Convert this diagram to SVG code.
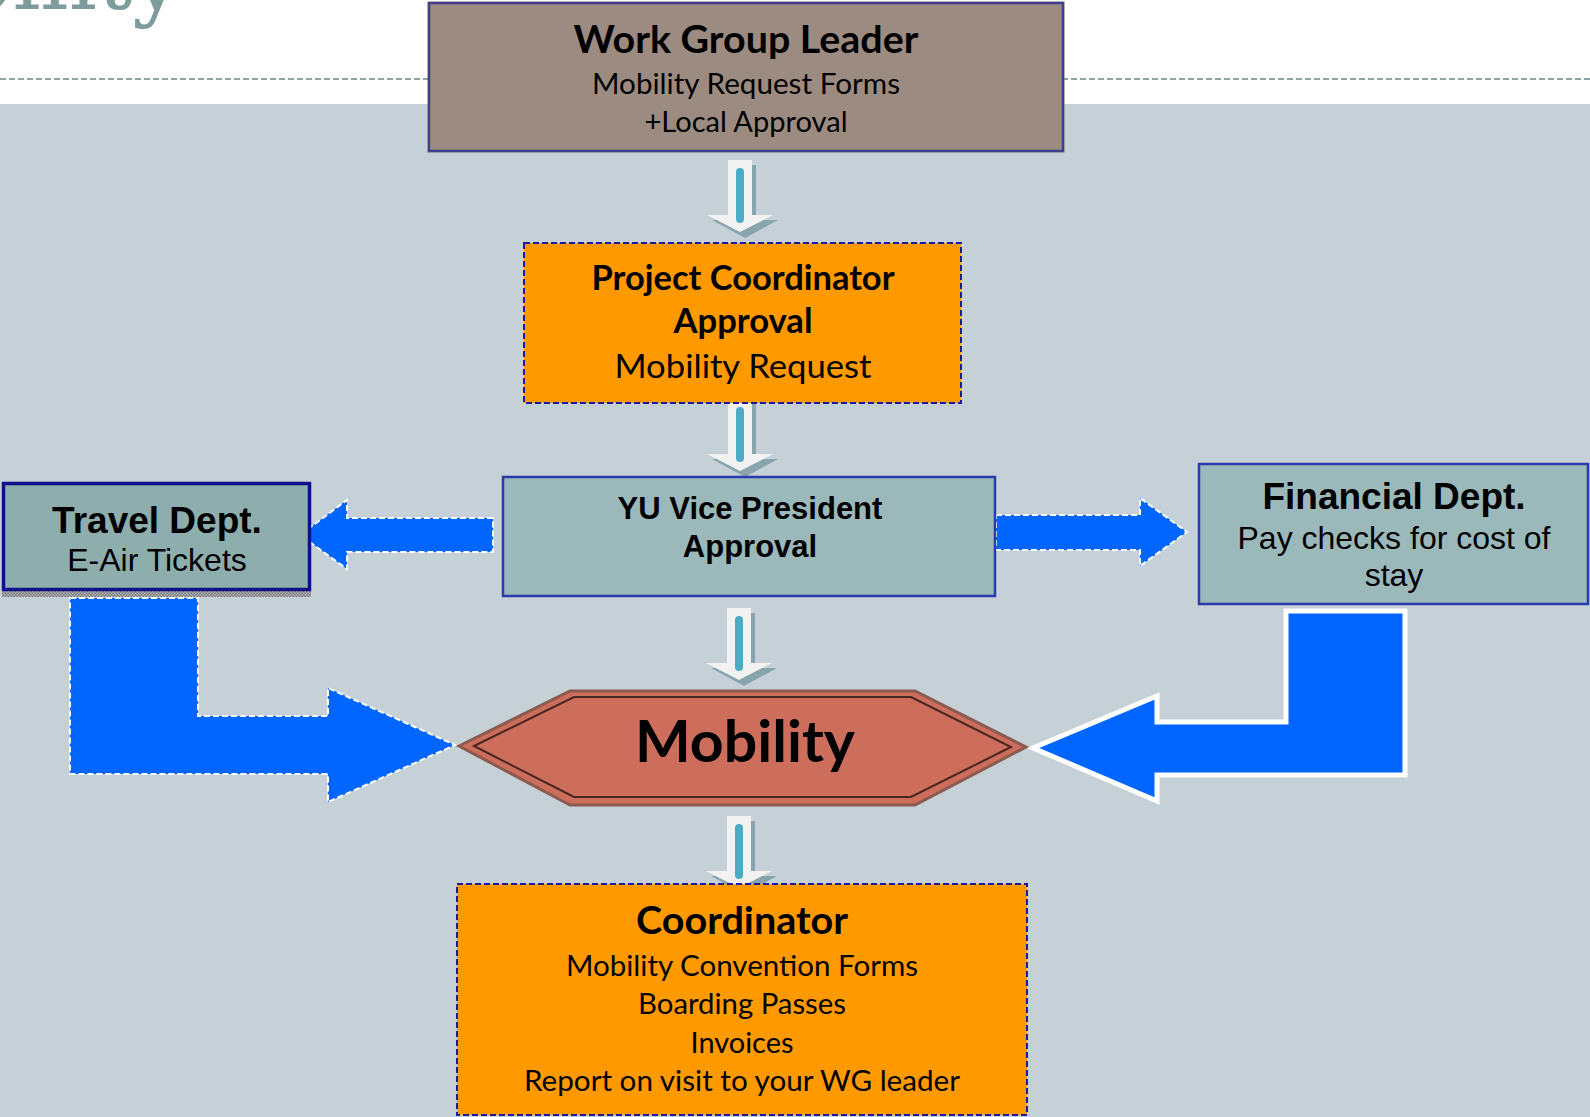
<svg xmlns="http://www.w3.org/2000/svg" width="1590" height="1117" viewBox="0 0 1590 1117">
<style>
.cal{font-family:Lato,"Open Sans",sans-serif;fill:#000;text-anchor:middle}
.b{font-weight:700}
.ar{font-family:"Liberation Sans",Arial,sans-serif;fill:#000;text-anchor:middle}
.orange{fill:#ff9900;stroke:#1a1aa0;stroke-width:2;stroke-dasharray:6 3}
.teal{fill:#9bb9bb;stroke:#2a3aaa;stroke-width:2.5}
.bluedash{fill:#0066ff;stroke:#ffffff;stroke-width:2;stroke-dasharray:6 3}
.bluesolid{fill:#0066ff;stroke:#ffffff;stroke-width:5;stroke-linejoin:miter}
</style>
<defs>
<g id="darrow">
<path d="M-8,5 L16,5 L16,60 L38,60 L5,78 L-28,60 L-8,60 Z" fill="#7d9ca5" opacity="0.85"/>
<path d="M-12,0 L12,0 L12,55 L33,55 L0,72 L-33,55 L-12,55 Z" fill="#f2f2f2"/>
<rect x="-4" y="8" width="8" height="55" rx="4" fill="#4bacc6"/>
</g>
<pattern id="dots" width="3" height="3" patternUnits="userSpaceOnUse">
<rect width="3" height="3" fill="#b8bcbe"/>
<rect width="1.5" height="1.5" fill="#707070"/>
<rect x="1.5" y="1.5" width="1.5" height="1.5" fill="#707070"/>
</pattern>
</defs>
<rect x="0" y="0" width="1590" height="1117" fill="#ffffff"/>
<rect x="0" y="104" width="1590" height="1013" fill="#c6d1d7"/>
<line x1="0" y1="79" x2="1590" y2="79" stroke="#8ea4a4" stroke-width="2" stroke-dasharray="6 3"/>
<text x="182" y="9" font-family="'DejaVu Serif',serif" font-size="88" fill="#7f9c9c" text-anchor="end">bility</text>

<g id="connectors">
<use href="#darrow" x="740" y="160"/>
<use href="#darrow" x="740" y="399"/>
<use href="#darrow" x="739" y="608"/>
<use href="#darrow" x="739" y="816"/>
<polygon class="bluedash" points="493,518 347,518 347,500 300,535 347,569 347,552 493,552"/>
<polygon class="bluedash" points="996,515 1140,515 1140,498 1187,532 1140,566 1140,550 996,550"/>
<polygon class="bluedash" points="70,598 198,598 198,716 328,716 328,688 455,745 328,802 328,774 70,774"/>
<polygon class="bluesolid" points="1286,611 1405,611 1405,775 1157,775 1157,801 1033,748 1157,696 1157,722 1286,722"/>
</g>

<g id="work-group-leader">
<rect x="429" y="3" width="634" height="148" fill="#9c8b80" stroke="#6a6a6a" stroke-width="3"/>
<rect x="429" y="3" width="634" height="148" fill="none" stroke="#33309c" stroke-width="1.5"/>
<text class="cal b" x="746" y="53" font-size="38" textLength="345" lengthAdjust="spacingAndGlyphs">Work Group Leader</text>
<text class="cal" x="746" y="94" font-size="29" textLength="308" lengthAdjust="spacingAndGlyphs">Mobility Request Forms</text>
<text class="cal" x="746" y="132" font-size="29" textLength="203" lengthAdjust="spacingAndGlyphs">+Local Approval</text>
</g>

<g id="project-coordinator">
<rect class="orange" x="524" y="243" width="437" height="160"/>
<text class="cal b" x="743" y="290" font-size="33.5" textLength="303" lengthAdjust="spacingAndGlyphs">Project Coordinator</text>
<text class="cal b" x="743" y="333" font-size="33.5" textLength="139" lengthAdjust="spacingAndGlyphs">Approval</text>
<text class="cal" x="743" y="378" font-size="33.5" textLength="257" lengthAdjust="spacingAndGlyphs">Mobility Request</text>
</g>

<g id="vice-president">
<rect class="teal" x="503" y="477" width="492" height="119"/>
<text class="ar b" x="750" y="519" font-size="31">YU Vice President</text>
<text class="ar b" x="750" y="557" font-size="31">Approval</text>
</g>

<g id="travel-dept">
<rect x="2" y="590" width="309" height="7" fill="url(#dots)"/>
<rect x="3.5" y="483.5" width="306" height="106" fill="#8eadad" stroke="#10108a" stroke-width="3.5"/>
<text class="ar b" x="157" y="533" font-size="37">Travel Dept.</text>
<text class="ar" x="157" y="571" font-size="32">E-Air Tickets</text>
</g>

<g id="financial-dept">
<rect class="teal" x="1199" y="464" width="389" height="140"/>
<text class="ar b" x="1394" y="509" font-size="37">Financial Dept.</text>
<text class="ar" x="1394" y="549" font-size="32">Pay checks for cost of</text>
<text class="ar" x="1394" y="586" font-size="32">stay</text>
</g>

<g id="mobility">
<polygon points="459,746 570,691 915,691 1026,747 915,805 570,805" fill="#cd6d5c" stroke="#8c5a50" stroke-width="3"/>
<polygon points="474,746 574,697 911,697 1011,747 911,797 574,797" fill="none" stroke="#4a2620" stroke-width="2"/>
<text class="cal b" x="745" y="762" font-size="57" textLength="220" lengthAdjust="spacingAndGlyphs">Mobility</text>
</g>

<g id="coordinator">
<rect class="orange" x="457" y="884" width="570" height="231"/>
<text class="cal b" x="742" y="934" font-size="38" textLength="212" lengthAdjust="spacingAndGlyphs">Coordinator</text>
<text class="cal" x="742" y="976" font-size="29" textLength="352" lengthAdjust="spacingAndGlyphs">Mobility Convention Forms</text>
<text class="cal" x="742" y="1014" font-size="29" textLength="208" lengthAdjust="spacingAndGlyphs">Boarding Passes</text>
<text class="cal" x="742" y="1053" font-size="29" textLength="103" lengthAdjust="spacingAndGlyphs">Invoices</text>
<text class="cal" x="742" y="1091" font-size="29" textLength="436" lengthAdjust="spacingAndGlyphs">Report on visit to your WG leader</text>
</g>
</svg>
